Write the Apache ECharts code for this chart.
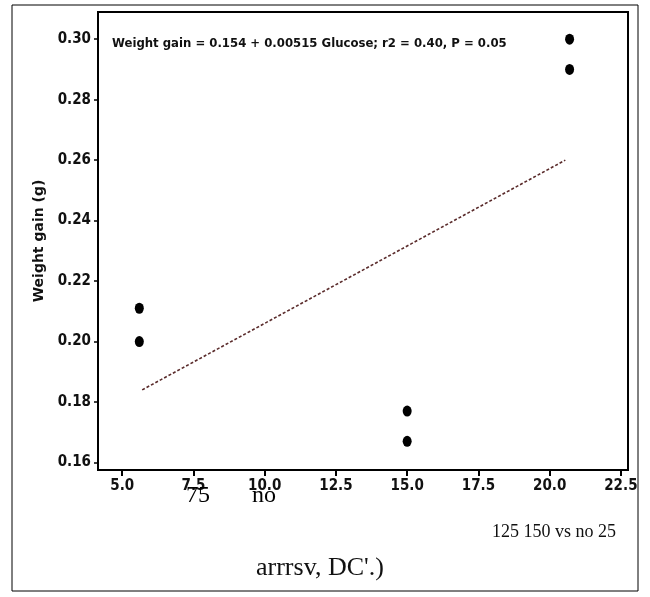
<!DOCTYPE html>
<html>
<head>
<meta charset="utf-8">
<script src="https://cdn.jsdelivr.net/npm/echarts@6/dist/echarts.min.js"></script>
<style>
html,body{margin:0;padding:0;background:#fff;}
#c{width:650px;height:597px;}
</style>
</head>
<body>
<div id="c"></div>
<script>
// ---- data ----
const xTicks = [5.0, 7.5, 10.0, 12.5, 15.0, 17.5, 20.0, 22.5];
const yTicks = [0.16, 0.18, 0.20, 0.22, 0.24, 0.26, 0.28, 0.30];
const doseX = [5.6, 5.6, 15.0, 15.0, 20.7, 20.7];
const gainY = [0.211, 0.200, 0.177, 0.167, 0.300, 0.290];
const fitX = [5.7, 20.55];
const fitY = [0.184, 0.260];
const equationText = 'Weight gain = 0.154 + 0.00515 Glucose; r2 = 0.40, P = 0.05';
const yAxisTitle = 'Weight gain (g)';
const overlayA = '75';
const overlayB = 'no';
const footLine1 = '125 150 vs no 25';
const footLine2 = "arrrsv, DC'.)";

const pts = doseX.map((x, i) => [x, gainY[i]]);
const fit = fitX.map((x, i) => [x, fitY[i]]);

const condensed = '"Liberation Sans Narrow","DejaVu Sans Condensed","Arial Narrow",sans-serif';
const serif = '"Liberation Serif","DejaVu Serif",serif';

const chart = echarts.init(document.getElementById('c'), null, {renderer: 'canvas'});
chart.setOption({
  animation: false,
  backgroundColor: '#fff',
  grid: {
    left: 98, top: 12, right: 22, bottom: 127,
    show: true, borderColor: '#000', borderWidth: 2, backgroundColor: 'transparent'
  },
  xAxis: {
    type: 'value', min: 4.15, max: 22.75,
    axisLine: {show: true, onZero: false, lineStyle: {color: '#000', width: 2}},
    axisTick: {show: true, customValues: xTicks, length: 6, lineStyle: {color: '#000', width: 2}},
    axisLabel: {
      customValues: xTicks, margin: 9, color: '#111',
      fontFamily: condensed, fontWeight: 'bold', fontSize: 15,
      formatter: v => v.toFixed(1)
    },
    splitLine: {show: false}
  },
  yAxis: {
    type: 'value', min: 0.1575, max: 0.309,
    name: yAxisTitle, nameLocation: 'middle', nameGap: 52, nameRotate: 90,
    nameTextStyle: {fontFamily: '"DejaVu Sans",sans-serif', fontWeight: 'bold', fontSize: 14, color: '#111'},
    axisLine: {show: true, lineStyle: {color: '#000', width: 2}},
    axisTick: {show: true, customValues: yTicks, length: 4, lineStyle: {color: '#000', width: 1.5}},
    axisLabel: {
      customValues: yTicks, margin: 7, color: '#111',
      fontFamily: condensed, fontWeight: 'bold', fontSize: 15,
      formatter: v => v.toFixed(2)
    },
    splitLine: {show: false}
  },
  series: [
    {
      type: 'line', data: fit, symbol: 'none',
      lineStyle: {color: '#5a2b2b', width: 1.6, type: [3, 2]},
      z: 2
    },
    {
      type: 'scatter', data: pts, symbol: 'circle', symbolSize: [9, 11],
      itemStyle: {color: '#000', opacity: 1}, z: 3
    }
  ],
  graphic: [
    {type: 'rect', shape: {x: 300, y: 493, width: 337, height: 16},
     style: {fill: '#fff'}, silent: true, z: 9},
    {type: 'rect', shape: {x: 12, y: 5, width: 626, height: 586},
     style: {fill: 'none', stroke: '#000', lineWidth: 1}, silent: true, z: 10},
    {type: 'text', left: 112, top: 37,
     style: {text: equationText, font: 'bold 13px ' + condensed, fill: '#111'}, z: 10},
    {type: 'text', left: 186, top: 484,
     style: {text: overlayA, font: '24px ' + serif, fill: '#000'}, z: 11},
    {type: 'text', left: 252, top: 484,
     style: {text: overlayB, font: '24px ' + serif, fill: '#000'}, z: 11},
    {type: 'text', left: 492, top: 523,
     style: {text: footLine1, font: '18px ' + serif, fill: '#111'}, z: 10},
    {type: 'text', left: 256, top: 555,
     style: {text: footLine2, font: '26px ' + serif, fill: '#111'}, z: 10}
  ]
});
</script>
</body>
</html>
